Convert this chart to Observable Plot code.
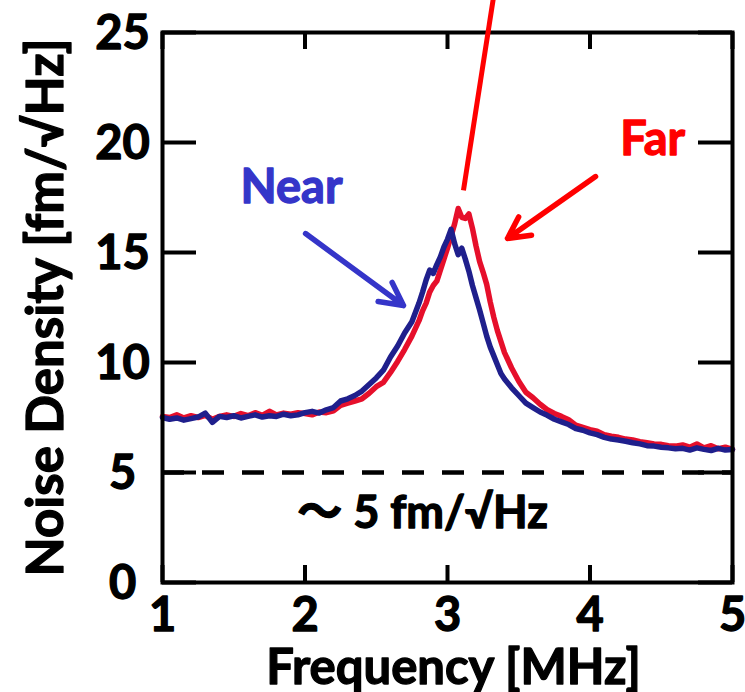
<!DOCTYPE html>
<html>
<head>
<meta charset="utf-8">
<script src="https://cdn.jsdelivr.net/npm/d3@7"></script>
<script src="https://cdn.jsdelivr.net/npm/@observablehq/plot@0.6"></script>
<style>
  body { margin: 0; background: #fff; }
</style>
</head>
<body>
<div id="chart"></div>
<script>
// ---- data ----
const freq = [
  1.00, 1.05, 1.10, 1.15, 1.20, 1.25, 1.30, 1.35, 1.40, 1.45,
  1.50, 1.55, 1.60, 1.65, 1.70, 1.75, 1.80, 1.85, 1.90, 1.95,
  2.00, 2.05, 2.10, 2.15, 2.20, 2.25, 2.30, 2.35, 2.40, 2.45,
  2.50, 2.55, 2.60, 2.65, 2.70, 2.75, 2.80,
  2.825, 2.85, 2.875, 2.90, 2.925, 2.95, 2.975, 3.00, 3.025, 3.05,
  3.075, 3.10, 3.125, 3.15, 3.175, 3.20, 3.225, 3.25, 3.275, 3.30,
  3.325, 3.35, 3.375, 3.40,
  3.45, 3.50, 3.55, 3.60, 3.65, 3.70, 3.75, 3.80, 3.85, 3.90,
  3.95, 4.00, 4.05, 4.10, 4.15, 4.20, 4.25, 4.30, 4.35, 4.40,
  4.45, 4.50, 4.55, 4.60, 4.65, 4.70, 4.75, 4.80, 4.85, 4.90,
  4.95, 5.00
];
const near = [
  7.50, 7.42, 7.48, 7.38, 7.45, 7.52, 7.70, 7.28, 7.55, 7.50,
  7.58, 7.48, 7.55, 7.62, 7.52, 7.58, 7.55, 7.65, 7.58, 7.62,
  7.72, 7.78, 7.70, 7.85, 7.95, 8.25, 8.35, 8.50, 8.70, 9.00,
  9.30, 9.65, 10.25, 10.75, 11.35, 11.85, 12.70,
  13.20, 13.75, 14.20, 14.05, 14.45, 14.80, 15.25, 15.60, 16.05, 15.40,
  14.90, 15.20, 14.70, 14.15, 13.50, 12.95, 12.40, 11.80, 11.20, 10.70,
  10.30, 9.90, 9.50, 9.25,
  8.85, 8.50, 8.15, 7.95, 7.75, 7.60, 7.42, 7.30, 7.18, 7.00,
  6.92, 6.80, 6.72, 6.60, 6.52, 6.48, 6.42, 6.35, 6.30, 6.22,
  6.20, 6.15, 6.12, 6.08, 6.10, 6.02, 6.12, 6.05, 6.00, 6.10,
  6.02, 6.05
];
const far = [
  7.55, 7.50, 7.62, 7.48, 7.58, 7.50, 7.60, 7.42, 7.55, 7.62,
  7.55, 7.68, 7.58, 7.72, 7.60, 7.78, 7.62, 7.70, 7.65, 7.72,
  7.68, 7.62, 7.75, 7.72, 7.80, 8.05, 8.15, 8.25, 8.35, 8.60,
  8.90, 9.10, 9.55, 10.05, 10.60, 11.20, 11.90,
  12.35, 12.70, 13.20, 13.50, 13.70, 14.20, 14.70, 15.20, 15.75, 16.30,
  17.00, 16.60, 16.55, 16.75, 16.10, 15.30, 14.60, 14.10, 13.55, 12.75,
  12.05, 11.45, 10.95, 10.45,
  9.75, 9.15, 8.65, 8.40, 8.10, 7.85, 7.68, 7.55, 7.40, 7.15,
  7.05, 6.95, 6.88, 6.72, 6.65, 6.60, 6.52, 6.48, 6.40, 6.35,
  6.30, 6.28, 6.22, 6.20, 6.25, 6.15, 6.30, 6.12, 6.22, 6.08,
  6.15, 6.05
];
const xTicks = [1, 2, 3, 4, 5];
const yTicks = [0, 5, 10, 15, 20, 25];
const floorLevel = [5];
const xLabel = ["Frequency [MHz]"];
const yLabel = ["Noise Density [fm/\u221AHz]"];
const nearLabel = [{text: "Near", f: 1.905, v: 17.27}];
const farLabel = [{text: "Far", f: 4.44, v: 19.41}];
const floorLabel = [{text: "\uFF5E 5 fm/\u221AHz", f: 2.825, v: 2.5}];
const nearArrow = [{f1: 2.004, v1: 15.86, f2: 2.691, v2: 12.59}];
const farArrow = [{f1: 4.039, v1: 18.45, f2: 3.421, v2: 15.64}];
const farPointer = [{f1: 3.112, v1: 17.82, f2: 3.33, v2: 26.9}];

const nearRows = freq.map((f, i) => ({f, v: near[i]}));
const farRows = freq.map((f, i) => ({f, v: far[i]}));

const FONT = "Lato, 'Open Sans', 'Noto Sans CJK JP', sans-serif";
const W = "bold";
const HALO = 1.3; // same-colour outline to thicken the glyphs
const tickLen = 533; // frame inset leaving a 17px inward tick

const txt = (color) => ({fill: color, stroke: color, strokeWidth: HALO, fontWeight: W});

const chart = Plot.plot({
  width: 745,
  height: 692,
  marginLeft: 162,
  marginRight: 13,
  marginTop: 32,
  marginBottom: 110,
  x: {domain: [1, 5], axis: null},
  y: {domain: [0, 25], axis: null},
  style: {fontFamily: FONT, fontWeight: W, background: "white", color: "black"},
  marks: [
    Plot.ruleY(floorLevel, {y: d => d, stroke: "black", strokeWidth: 4.5, strokeDasharray: "22,18"}),
    Plot.line(farRows, {x: "f", y: "v", stroke: "#e60f2b", strokeWidth: 5.5, strokeLinejoin: "round"}),
    Plot.line(nearRows, {x: "f", y: "v", stroke: "#1f1f8c", strokeWidth: 5.5, strokeLinejoin: "round"}),
    // inward ticks on all four sides
    Plot.ruleX(xTicks, {x: d => d, insetTop: tickLen, stroke: "black", strokeWidth: 4}),
    Plot.ruleX(xTicks, {x: d => d, insetBottom: tickLen, stroke: "black", strokeWidth: 4}),
    Plot.ruleY(yTicks, {y: d => d, insetRight: tickLen + 3, stroke: "black", strokeWidth: 4}),
    Plot.ruleY(yTicks, {y: d => d, insetLeft: tickLen + 3, stroke: "black", strokeWidth: 4}),
    Plot.frame({stroke: "black", strokeWidth: 4}),
    // tick labels
    Plot.text(xTicks, {x: d => d, text: d => String(d), frameAnchor: "bottom", dy: 48, lineAnchor: "bottom",
      textAnchor: "middle", fontSize: 47, ...txt("black")}),
    Plot.text(yTicks, {y: d => d, text: d => String(d), frameAnchor: "left", dx: -40, dy: 16, lineAnchor: "bottom",
      textAnchor: "middle", fontSize: 47, ...txt("black")}),
    // axis titles
    Plot.text(xLabel, {text: d => d, frameAnchor: "bottom", dx: 6, dy: 101, lineAnchor: "bottom",
      textAnchor: "middle", fontSize: 49, ...txt("black")}),
    Plot.text(yLabel, {text: d => d, frameAnchor: "left", rotate: -90, dx: -100, lineAnchor: "bottom",
      textAnchor: "middle", fontSize: 51, ...txt("black")}),
    // annotations
    Plot.text(floorLabel, {x: "f", y: "v", text: "text", lineAnchor: "bottom", fontSize: 45, ...txt("black")}),
    Plot.text(nearLabel, {x: "f", y: "v", text: "text", lineAnchor: "bottom", fontSize: 47, ...txt("#3535c9")}),
    Plot.text(farLabel, {x: "f", y: "v", text: "text", lineAnchor: "bottom", fontSize: 47, ...txt("#ff0000")}),
    Plot.arrow(nearArrow, {x1: "f1", y1: "v1", x2: "f2", y2: "v2", stroke: "#3535c9", strokeWidth: 5.5, headLength: 7, headAngle: 55}),
    Plot.arrow(farArrow, {x1: "f1", y1: "v1", x2: "f2", y2: "v2", stroke: "#ff0000", strokeWidth: 5.5, headLength: 6.6, headAngle: 55}),
    Plot.link(farPointer, {x1: "f1", y1: "v1", x2: "f2", y2: "v2", stroke: "#ff0000", strokeWidth: 5})
  ]
});
document.getElementById("chart").appendChild(chart);
</script>
</body>
</html>
